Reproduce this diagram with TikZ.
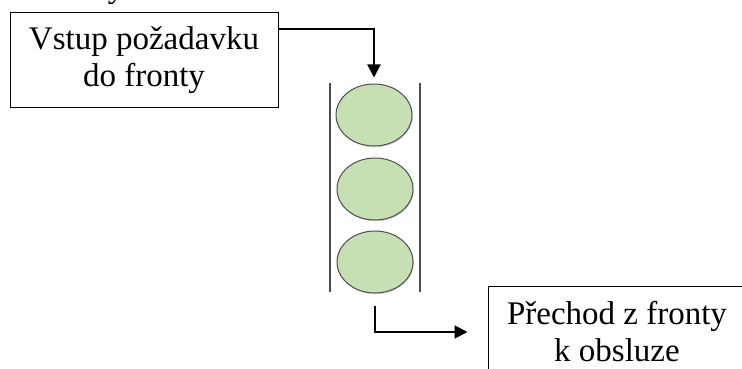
\documentclass[tikz,border=0pt]{standalone}
\usepackage{fontspec}
\setmainfont{Liberation Serif}
\usetikzlibrary{shapes.geometric,arrows.meta,calc,shadows}
\definecolor{ballgreen}{HTML}{C6E0B4}
\tikzset{
  txtbox/.style={draw=black, line width=1pt, fill=white, align=center,
    font=\fontsize{33}{37}\selectfont, inner sep=0pt},
  ball/.style={ellipse, draw=black!70, line width=1pt, fill=ballgreen,
    minimum width=76pt, minimum height=62pt, inner sep=0pt,
    drop shadow={shadow xshift=0.8pt, shadow yshift=-1.2pt, opacity=0.35}},
  wall/.style={draw=black!70, line width=1.2pt},
  flow/.style={draw=black, line width=2pt, -{Triangle[width=13pt,length=13pt]}}
}
\begin{document}
\begin{tikzpicture}[x=1pt,y=-1pt]
\useasboundingbox (0,0) rectangle (742,369);
\node[anchor=base, font=\fontsize{33}{37}\selectfont, inner sep=0pt] (cut) at (116,-2) {y};
\node[txtbox, minimum width=268pt, minimum height=94pt] (in) at (144,60) {Vstup požadavku\\do fronty};
\node[ball] (e1) at (374,115) {};
\node[ball] (e2) at (375,189) {};
\node[ball] (e3) at (375,262) {};
\coordinate (wl1) at (330,83); \coordinate (wl2) at (330,292);
\coordinate (wr1) at (420,83); \coordinate (wr2) at (420,292);
\draw[wall] (wl1) -- (wl2);
\draw[wall] (wr1) -- (wr2);
\node[txtbox, minimum width=258pt, minimum height=92pt] (out) at (617,332) {Přechod z fronty\\k obsluze};
\draw[flow, shorten >=6pt] ($(in.north east)+(0,17)$) -| (e1.north);
\draw[flow, shorten >=20pt] ($(e3.south)+(0,12)$) |- (out.west);
\end{tikzpicture}
\end{document}
